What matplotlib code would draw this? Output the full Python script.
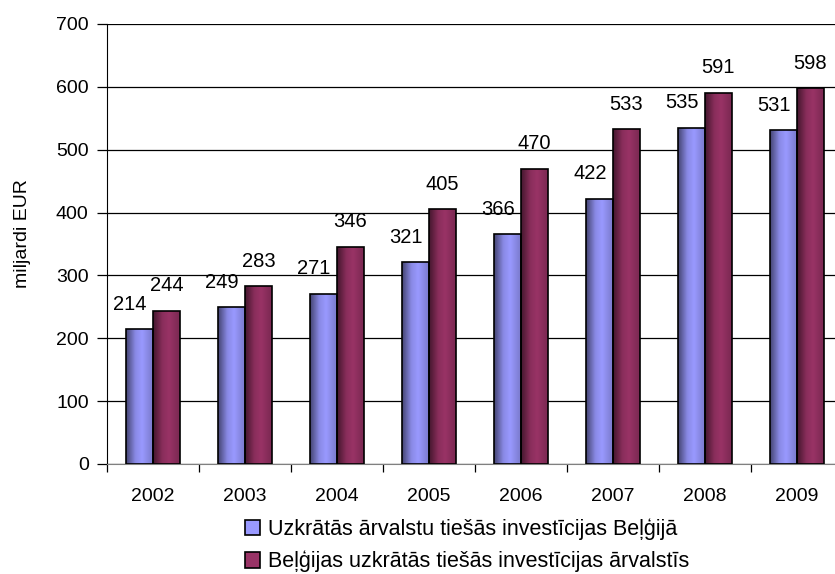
import numpy as np
import matplotlib.pyplot as plt
from matplotlib.colors import LinearSegmentedColormap, to_rgb

plt.rcParams['font.family'] = ['Liberation Sans', 'DejaVu Sans']

#%% Data (miljardi EUR)
years = ['2002', '2003', '2004', '2005', '2006', '2007', '2008', '2009']
inward = [214, 249, 271, 321, 366, 422, 535, 531]
outward = [244, 283, 346, 405, 470, 533, 591, 598]
labels = ['Uzkrātās ārvalstu tiešās investīcijas Beļģijā',
          'Beļģijas uzkrātās tiešās investīcijas ārvalstīs']

blue = '#9999ff'
maroon = '#993366'


def shade(c, f):
    r = np.array(to_rgb(c))
    return tuple(np.clip(r * f, 0, 1))


def gradient_bars(ax, bars, base):
    cmap = LinearSegmentedColormap.from_list(
        'g', [(0, shade(base, 0.45)), (0.35, shade(base, 0.9)),
              (0.6, shade(base, 1.0)), (1, shade(base, 0.8))])
    grad = np.linspace(0, 1, 64).reshape(1, -1)
    for b in bars:
        x, y = b.get_x(), b.get_y()
        w, h = b.get_width(), b.get_height()
        im = ax.imshow(grad, cmap=cmap, aspect='auto', extent=(x, x + w, y, y + h),
                       zorder=2, interpolation='bicubic')
        im.set_clip_path(b)
        b.set_facecolor('none')


#%% Plot
fig = plt.figure(figsize=(8.35, 5.74), dpi=100)
ax = fig.add_axes([107 / 835, 110 / 574, 736 / 835, 440 / 574])

x = np.arange(len(years))
w = 0.29
b1 = ax.bar(x - w / 2, inward, w, facecolor=blue, edgecolor='black', lw=1.2, zorder=3)
b2 = ax.bar(x + w / 2, outward, w, facecolor=maroon, edgecolor='black', lw=1.2, zorder=3)
gradient_bars(ax, b1, blue)
gradient_bars(ax, b2, maroon)

for xi, v in zip(x, inward):
    ax.annotate(str(v), (xi - w / 2, v), xytext=(-7, 11), textcoords='offset points',
                ha='center', va='bottom', fontsize=14.5)
for xi, v in zip(x, outward):
    ax.annotate(str(v), (xi + w / 2, v), xytext=(0, 11), textcoords='offset points',
                ha='center', va='bottom', fontsize=14.5)

ax.set_xlim(-0.5, 7.5)
ax.set_ylim(0, 700)
ax.set_yticks(range(0, 701, 100))
ax.yaxis.grid(True, color='black', lw=0.9)
ax.set_axisbelow(True)
ax.tick_params(axis='y', length=7.2, width=0.9, labelsize=14, pad=6)

ax.set_xticks(np.arange(-0.5, 8, 1), minor=False)
ax.set_xticklabels([])
ax.set_xticks(x, minor=True)
ax.set_xticklabels(years, minor=True, fontsize=14)
ax.tick_params(axis='x', which='major', length=6, width=0.9, color='black')
ax.tick_params(axis='x', which='minor', length=0, pad=17)

for s in ['top', 'right']:
    ax.spines[s].set_visible(False)
ax.spines['bottom'].set_color('#808080')
ax.spines['left'].set_color('black')

fig.text(23 / 835, 1 - 234 / 574, 'miljardi EUR', rotation=90, ha='center', va='center',
         fontsize=14)

leg = fig.legend([b1, b2], labels, loc='upper left', bbox_to_anchor=(236 / 835, 1 - 510 / 574),
                 frameon=False, fontsize=15.5, handlelength=0.72, handleheight=0.72,
                 handletextpad=0.35, labelspacing=0.5, borderaxespad=0)
for h, c in zip(leg.legend_handles, [blue, maroon]):
    h.set_facecolor(c)
    h.set_edgecolor('black')

plt.savefig('out.png', dpi=100)
